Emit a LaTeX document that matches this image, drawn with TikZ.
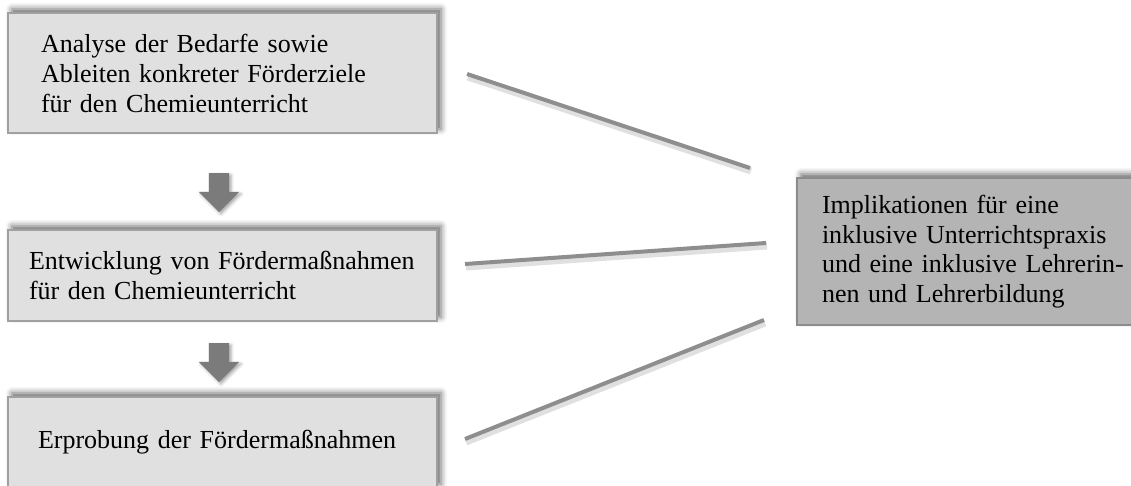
\documentclass[tikz,border=0pt]{standalone}
\usepackage{fontspec}
\setmainfont{Liberation Serif}
\usetikzlibrary{shadows.blur,shapes.arrows}
\definecolor{boxfill}{HTML}{E0E0E0}
\definecolor{boxline}{HTML}{A0A0A0}
\definecolor{goalfill}{HTML}{B4B4B4}
\definecolor{goalline}{HTML}{8C8C8C}
\definecolor{linkgray}{HTML}{8E8E8E}
\definecolor{arrowgray}{HTML}{7B7B7B}

\begin{document}
\begin{tikzpicture}[x=1pt,y=-1pt,
  boxshadow/.style={blur shadow={shadow xshift=4pt, shadow yshift=4pt,
      shadow blur radius=6pt, shadow opacity=60}},
  stepbox/.style={draw=boxline, line width=1.2pt, fill=boxfill, boxshadow,
      align=left, minimum width=429pt,
      font=\fontsize{26}{30}\selectfont},
  goalbox/.style={draw=goalline, line width=1.2pt, fill=goalfill, boxshadow,
      align=left, minimum width=348pt,
      font=\fontsize{26}{29.5}\selectfont},
  downarrow/.style={single arrow, rotate=-90, fill=arrowgray, draw=none,
      minimum height=39pt, inner xsep=0pt, inner ysep=10pt,
      single arrow head extend=10pt, single arrow tip angle=90,
      blur shadow={shadow xshift=2pt, shadow yshift=-2pt,
        shadow blur radius=3pt, shadow opacity=35}},
  link/.style={draw=linkgray, line width=4pt,
      preaction={draw=black, opacity=0.12, line width=7pt,
        transform canvas={shift={(1pt,-3pt)}}}}
]
\useasboundingbox (0,0) rectangle (1131,486);
\clip (0,0) rectangle (1131,486);

% Sequence of work steps (each line kept whole)
\node[stepbox, minimum height=120pt, text width=363pt, inner xsep=33pt]
  (b1) at (222.5,73) {\mbox{Analyse der Bedarfe sowie}\\\mbox{Ableiten konkreter Förderziele}\\\mbox{für den Chemieunterricht}};
\node[stepbox, minimum height=91pt, text width=387pt, inner xsep=21pt]
  (b2) at (222.5,275.5) {\mbox{Entwicklung von Fördermaßnahmen}\\\mbox{für den Chemieunterricht}};
\node[stepbox, minimum height=91pt, text width=369pt, inner xsep=30pt]
  (b3) at (222.5,442.5) {\mbox{Erprobung der Fördermaßnahmen}};

% Block arrows between the steps
\node[downarrow] (a1) at (219,187.5) {};
\node[downarrow] (a2) at (219,357.5) {};

% Resulting implications
\node[goalbox, minimum height=147pt, text width=298pt, inner xsep=25pt]
  (g) at (971,251.5) {\mbox{Implikationen für eine}\\\mbox{inklusive Unterrichtspraxis}\\\mbox{und eine inklusive Lehrerin-}\\\mbox{nen und Lehrerbildung}};

% Lines leading from the steps towards the implications
\coordinate (l1s) at (467,74);
\coordinate (l1e) at (750,168);
\coordinate (l2s) at (465,264);
\coordinate (l2e) at (766,243);
\coordinate (l3s) at (465,439);
\coordinate (l3e) at (764,320);
\draw[link] (l1s) -- (l1e);
\draw[link] (l2s) -- (l2e);
\draw[link] (l3s) -- (l3e);
\end{tikzpicture}
\end{document}
